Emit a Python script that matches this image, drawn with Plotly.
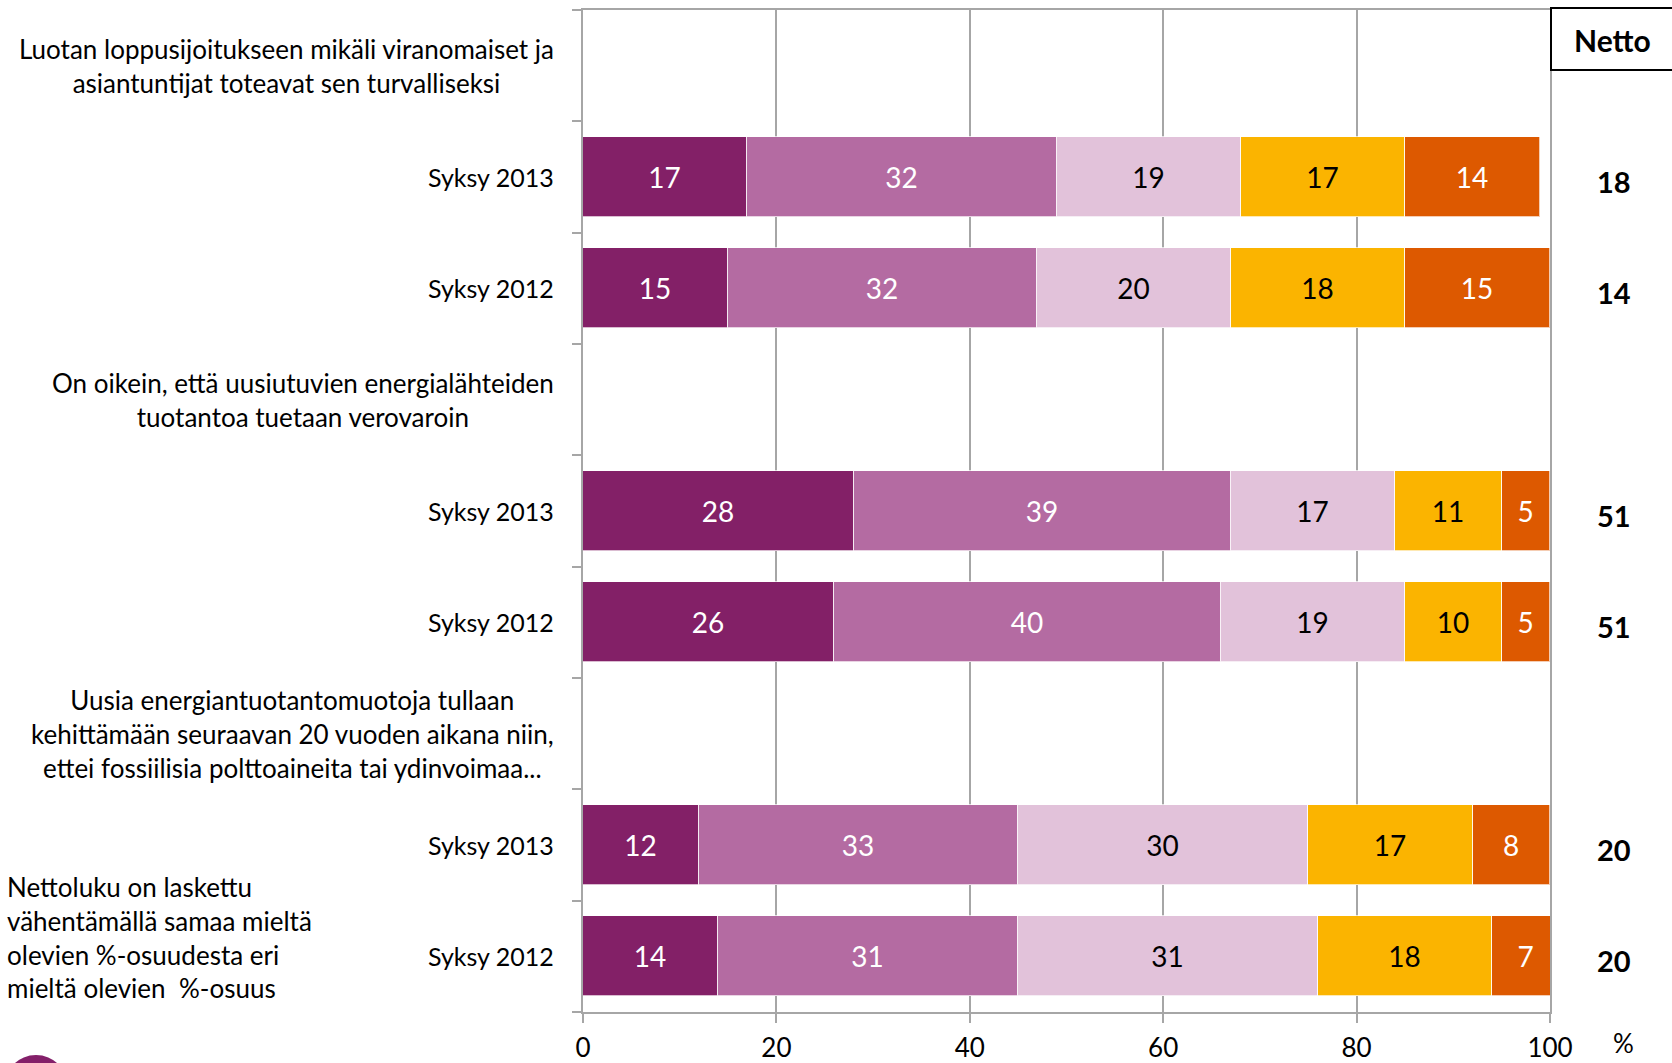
import plotly.graph_objects as go

# Rows from top to bottom: statement headers followed by their survey rounds
row_labels = [
    "Luotan loppusijoitukseen mikäli viranomaiset ja<br>asiantuntijat toteavat sen turvalliseksi",
    "Syksy 2013",
    "Syksy 2012",
    "On oikein, että uusiutuvien energialähteiden<br>tuotantoa tuetaan verovaroin",
    "Syksy 2013",
    "Syksy 2012",
    "Uusia energiantuotantomuotoja tullaan<br>kehittämään seuraavan 20 vuoden aikana niin,<br>ettei fossiilisia polttoaineita tai ydinvoimaa...",
    "Syksy 2013",
    "Syksy 2012",
]
# Row positions of the bars (the others are statement headers)
bar_rows = [1, 2, 4, 5, 7, 8]

series_names = [
    "Täysin samaa mieltä",
    "Jokseenkin samaa mieltä",
    "Ei samaa eikä eri mieltä",
    "Jokseenkin eri mieltä",
    "Täysin eri mieltä",
]
täysin_samaa = [17, 15, 28, 26, 12, 14]
jokseenkin_samaa = [32, 32, 39, 40, 33, 31]
ei_samaa_eikä_eri = [19, 20, 17, 19, 30, 31]
jokseenkin_eri = [17, 18, 11, 10, 17, 18]
täysin_eri = [14, 15, 5, 5, 8, 7]
netto = [18, 14, 51, 51, 20, 20]

x_ticks = [0, 20, 40, 60, 80, 100]

colors = ["#832067", "#B46BA2", "#E2C2DA", "#FBB400", "#DD5900"]
text_colors = ["white", "white", "black", "black", "white"]
series_values = [täysin_samaa, jokseenkin_samaa, ei_samaa_eikä_eri, jokseenkin_eri, täysin_eri]

FONT = "Lato"
FS = 27
GRID = "#A6A6A6"

W, H = 1672, 1063
L, R, T, B = 583, 122, 10, 51
PW, PH = W - L - R, H - T - B


def px_x(px):
    return (px - L) / PW


def px_y(py):
    return (H - B - py) / PH


fig = go.Figure()
for name, vals, col, tcol in zip(series_names, series_values, colors, text_colors):
    fig.add_trace(go.Bar(
        name=name,
        y=bar_rows,
        x=vals,
        orientation="h",
        width=0.72,
        marker=dict(color=col, line=dict(color="rgba(255,255,255,0.7)", width=1)),
        text=vals,
        texttemplate="%{text}",
        textposition="inside",
        insidetextanchor="middle",
        textangle=0,
        textfont=dict(family=FONT, size=FS + 1, color=tcol),
        hoverinfo="skip",
    ))

annotations = []
# Row labels on the left, lines centred within a right-aligned block
for i, lab in enumerate(row_labels):
    size = FS - 2 if i in bar_rows else FS - 1
    annotations.append(dict(
        x=px_x(556), xref="paper", y=i, yref="y",
        text=lab, showarrow=False, xanchor="right", yanchor="middle",
        align="center", font=dict(family=FONT, size=size, color="black"),
    ))

# Net values on the right
for r, v in zip(bar_rows, netto):
    annotations.append(dict(
        x=px_x(1614), xref="paper", y=r, yref="y", yshift=-4,
        text=f"<b>{v}</b>", showarrow=False, xanchor="center", yanchor="middle",
        font=dict(family=FONT, size=FS + 2, color="black"),
    ))

annotations.append(dict(
    x=px_x(1612), xref="paper", y=px_y(40), yref="paper",
    text="<b>Netto</b>", showarrow=False, xanchor="center", yanchor="middle",
    font=dict(family=FONT, size=FS + 3, color="black"),
))
annotations.append(dict(
    x=px_x(1623), xref="paper", y=px_y(1043), yref="paper",
    text="%", showarrow=False, xanchor="center", yanchor="middle",
    font=dict(family=FONT, size=FS - 1, color="black"),
))
annotations.append(dict(
    x=px_x(5), xref="paper", y=px_y(937), yref="paper",
    text="Nettoluku on laskettu<br>vähentämällä samaa mieltä<br>olevien %-osuudesta eri<br>mieltä olevien  %-osuus",
    showarrow=False, xanchor="left", yanchor="middle", align="left",
    font=dict(family=FONT, size=FS - 1, color="black"),
))

shapes = [
    # Netto header box
    dict(type="rect", xref="paper", yref="paper",
         x0=px_x(1551), x1=px_x(1680), y0=px_y(70), y1=px_y(8),
         line=dict(color="black", width=2), fillcolor="white", layer="above"),
    # logo mark at the bottom-left corner
    dict(type="circle", xref="paper", yref="paper",
         x0=px_x(4), x1=px_x(68), y0=px_y(1120), y1=px_y(1055),
         line=dict(width=0), fillcolor="#84206A", layer="above"),
]

fig.update_layout(
    width=W, height=H,
    margin=dict(l=L, r=R, t=T, b=B, pad=0),
    paper_bgcolor="white", plot_bgcolor="white",
    barmode="stack", bargap=0,
    showlegend=False,
    uniformtext=dict(minsize=FS + 1, mode="show"),
    font=dict(family=FONT, size=FS, color="black"),
    annotations=annotations,
    shapes=shapes,
    xaxis=dict(
        range=[0, 100], tickvals=x_ticks, ticktext=[str(t) for t in x_ticks],
        showgrid=True, gridcolor=GRID, gridwidth=2,
        showline=True, linecolor=GRID, linewidth=2, mirror=True,
        ticks="outside", ticklen=9, tickwidth=2, tickcolor=GRID,
        ticklabelstandoff=3,
        tickfont=dict(family=FONT, size=FS - 1, color="black"),
        zeroline=False, fixedrange=True, automargin=False,
    ),
    yaxis=dict(
        range=[8.5, -0.5],
        tickvals=[i - 0.5 for i in range(10)], ticktext=[""] * 10,
        showgrid=False, zeroline=False,
        showline=True, linecolor=GRID, linewidth=2, mirror=True,
        ticks="outside", ticklen=9, tickwidth=2, tickcolor=GRID,
        fixedrange=True, automargin=False,
    ),
)

fig.write_html("out.html")
